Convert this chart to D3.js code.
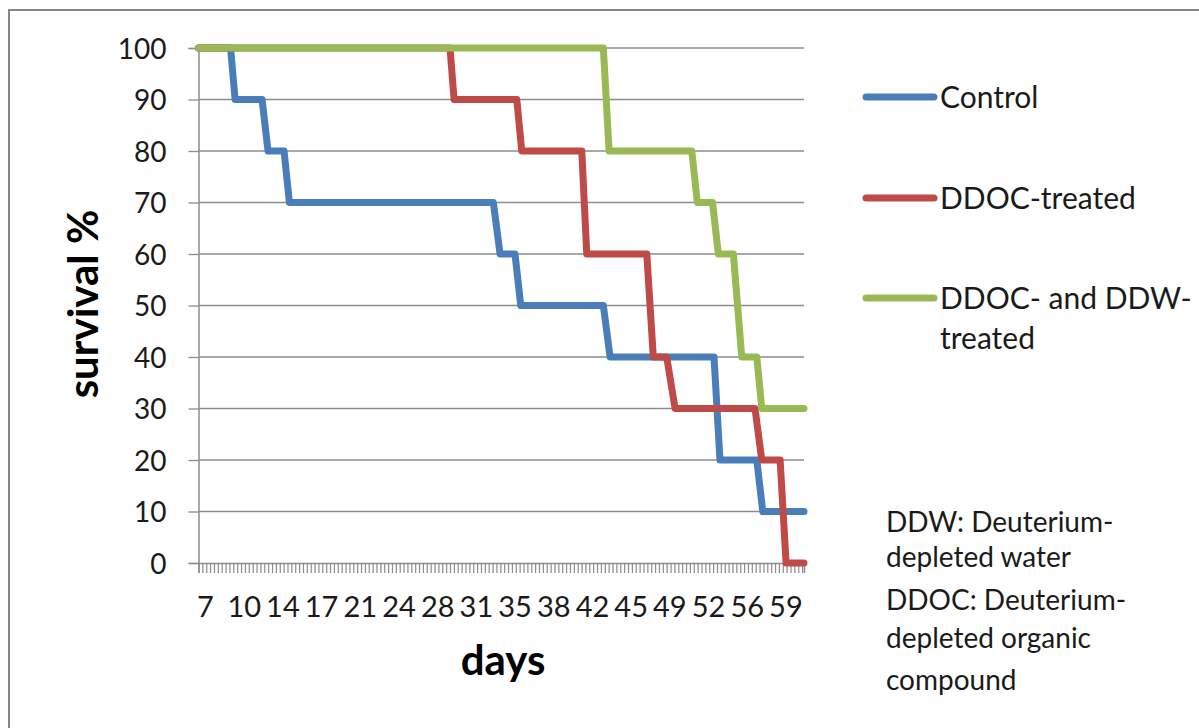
<!DOCTYPE html>
<html>
<head>
<meta charset="utf-8">
<script src="https://cdn.jsdelivr.net/npm/d3@7"></script>
<style>
  body { margin: 0; background: #fff; }
  svg { display: block; font-family: Lato, "Noto Sans", sans-serif; }
</style>
</head>
<body>
<div id="chart"></div>
<script>
// step vertices [day, survival %]
const control = [
  [6.68, 100], [9.58, 100], [9.99, 90], [12.43, 90], [12.97, 80], [14.42, 80],
  [14.90, 70], [33.35, 70], [33.96, 60], [35.31, 60], [35.83, 50], [43.30, 50],
  [43.91, 40], [53.31, 40], [53.85, 20], [57.18, 20], [57.72, 10], [61.45, 10]
];
const ddoc = [
  [6.68, 100], [29.43, 100], [29.80, 90], [35.47, 90], [35.92, 80], [41.35, 80],
  [41.80, 60], [47.23, 60], [47.82, 40], [49.03, 40], [49.79, 30], [57.02, 30],
  [57.63, 20], [59.29, 20], [59.83, 0], [61.45, 0]
];
const ddocDdw = [
  [6.68, 100], [43.30, 100], [43.82, 80], [51.30, 80], [51.80, 70], [53.18, 70],
  [53.70, 60], [55.06, 60], [55.82, 40], [57.18, 40], [57.63, 30], [61.45, 30]
];

const seriesNames = ['Control', 'DDOC-treated', 'DDOC- and DDW-treated'];
const seriesColors = ['#4a7ebb', '#be4b48', '#98b954'];
const xTickLabels = [7, 10, 14, 17, 21, 24, 28, 31, 35, 38, 42, 45, 49, 52, 56, 59];
const yTicks = [0, 10, 20, 30, 40, 50, 60, 70, 80, 90, 100];
const notes = ['DDW: Deuterium-', 'depleted water', 'DDOC: Deuterium-', 'depleted organic', 'compound'];

const width = 1199, height = 728;
const plot = { left: 198.5, right: 804, top: 48, bottom: 563 };

const svg = d3.select('#chart').append('svg')
  .attr('width', width)
  .attr('height', height);

// outer chart frame
svg.append('rect')
  .attr('x', 9).attr('y', 10)
  .attr('width', 1200).attr('height', 730)
  .attr('fill', 'none')
  .attr('stroke', '#868686')
  .attr('stroke-width', 2);

const x = d3.scaleLinear().domain([6.68, 61.45]).range([plot.left, plot.right]);
const y = d3.scaleLinear().domain([0, 100]).range([plot.bottom, plot.top]);

// horizontal gridlines
svg.append('g')
  .selectAll('line')
  .data(yTicks.filter(d => d > 0))
  .join('line')
  .attr('x1', plot.left).attr('x2', plot.right)
  .attr('y1', d => y(d)).attr('y2', d => y(d))
  .attr('stroke', '#8c8c8c')
  .attr('stroke-width', 1.3);

// y axis
const yAxis = svg.append('g')
  .attr('transform', `translate(${plot.left},0)`)
  .call(d3.axisLeft(y).tickValues(yTicks).tickSize(10).tickPadding(22));
yAxis.select('.domain').attr('stroke', '#8c8c8c').attr('stroke-width', 1.5);
yAxis.selectAll('.tick line').attr('stroke', '#8c8c8c').attr('stroke-width', 1.3);
yAxis.selectAll('.tick text')
  .attr('font-size', 28)
  .attr('font-family', 'Lato, sans-serif')
  .attr('fill', '#1a1a1a')
  .attr('dy', '0.36em');

// x axis: dense category ticks, labels every 3.5 days
const minorTicks = d3.range(6.68, 61.46, 0.35);
const xAxis = svg.append('g')
  .attr('transform', `translate(0,${plot.bottom})`)
  .call(d3.axisBottom(x).tickValues(minorTicks).tickSize(10).tickFormat(''));
xAxis.select('.domain').attr('stroke', '#8c8c8c').attr('stroke-width', 1.5);
xAxis.selectAll('.tick line').attr('stroke', '#8c8c8c').attr('stroke-width', 1.2);

svg.append('g')
  .selectAll('text')
  .data(xTickLabels)
  .join('text')
  .attr('x', (d, i) => x(7 + 3.5 * i) + 3.5)
  .attr('y', 617)
  .attr('text-anchor', 'middle')
  .attr('font-size', 29)
  .attr('fill', '#1a1a1a')
  .text(d => d);

// survival lines
const line = d3.line().x(d => x(d[0])).y(d => y(d[1]));
svg.append('g')
  .selectAll('path')
  .data([control, ddoc, ddocDdw])
  .join('path')
  .attr('d', line)
  .attr('fill', 'none')
  .attr('stroke', (d, i) => seriesColors[i])
  .attr('stroke-width', 7)
  .attr('stroke-linejoin', 'round')
  .attr('stroke-linecap', 'round');

// axis titles
svg.append('text')
  .attr('x', 503).attr('y', 675)
  .attr('text-anchor', 'middle')
  .attr('font-size', 42)
  .attr('font-weight', 'bold')
  .text('days');

svg.append('text')
  .attr('transform', 'translate(98,304) rotate(-90)')
  .attr('text-anchor', 'middle')
  .attr('font-size', 42)
  .attr('font-weight', 'bold')
  .text('survival %');

// legend
const legendY = [97, 198, 298];
const legend = svg.append('g');
legend.selectAll('line')
  .data(seriesNames)
  .join('line')
  .attr('x1', 866).attr('x2', 934)
  .attr('y1', (d, i) => legendY[i]).attr('y2', (d, i) => legendY[i])
  .attr('stroke', (d, i) => seriesColors[i])
  .attr('stroke-width', 7)
  .attr('stroke-linecap', 'round');

const legendLines = [['Control'], ['DDOC-treated'], ['DDOC- and DDW-', 'treated']];
legend.selectAll('text')
  .data(legendLines)
  .join('text')
  .attr('x', 940)
  .attr('y', (d, i) => legendY[i] + 10.5)
  .attr('font-size', 30)
  .attr('fill', '#1a1a1a')
  .selectAll('tspan')
  .data(d => d)
  .join('tspan')
  .attr('x', 940)
  .attr('dy', (d, j) => j === 0 ? 0 : 40)
  .text(d => d);

// note about abbreviations
const noteY = [532, 567, 610, 648, 690];
svg.append('g')
  .selectAll('text')
  .data(notes)
  .join('text')
  .attr('x', 886)
  .attr('y', (d, i) => noteY[i])
  .attr('font-size', 28)
  .attr('fill', '#1a1a1a')
  .text(d => d);
</script>
</body>
</html>
